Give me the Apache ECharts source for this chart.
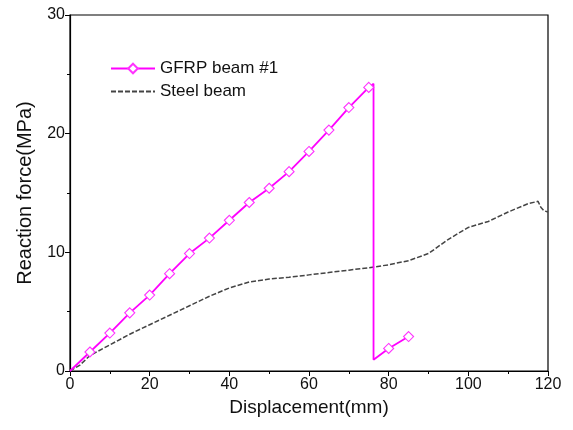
<!DOCTYPE html>
<html>
<head>
<meta charset="utf-8">
<script src="https://cdn.jsdelivr.net/npm/echarts@6/dist/echarts.min.js"></script>
<style>html,body{margin:0;padding:0;background:#fff;}#c{width:573px;height:430px;}</style>
</head>
<body>
<div id="c"></div>
<script>
// GFRP beam #1: [displacement mm, reaction force MPa]
var gfrpX = [0, 5, 10, 15, 20, 25, 30, 35, 40, 45, 50, 55, 60, 65, 70, 75, 76.2, 76.2, 80, 85];
var gfrpY = [0, 1.6, 3.2, 4.9, 6.4, 8.2, 9.9, 11.2, 12.7, 14.2, 15.4, 16.8, 18.5, 20.3, 22.2, 23.9, 24.2, 0.95, 1.9, 2.9];
var gfrpMarker = [false, true, true, true, true, true, true, true, true, true, true, true, true, true, true, true, false, false, true, true];

// Steel beam
var steelX = [0, 2.5, 5, 10, 15, 20, 25, 30, 35, 40, 45, 50, 55, 60, 65, 70, 75, 80, 85, 90, 95, 100, 105, 110, 115, 117.5, 118.2, 119, 120];
var steelY = [0, 0.5, 1.3, 2.2, 3.1, 3.9, 4.7, 5.5, 6.3, 7.0, 7.5, 7.75, 7.9, 8.1, 8.3, 8.5, 8.7, 8.95, 9.3, 9.9, 11.1, 12.1, 12.6, 13.4, 14.1, 14.3, 13.8, 13.5, 13.4];

var xTicks = [0, 20, 40, 60, 80, 100, 120];
var yTicks = [0, 10, 20, 30];

var markerStyle = { color: '#fff', borderColor: '#ff33ff', borderWidth: 1.1 };
var gfrpData = gfrpX.map(function (x, i) {
  var d = { value: [x, gfrpY[i]] };
  if (!gfrpMarker[i]) { d.symbol = 'none'; } else { d.symbol = 'diamond'; d.itemStyle = markerStyle; }
  return d;
});
var steelData = steelX.map(function (x, i) { return [x, steelY[i]]; });

var font = 'Liberation Sans, Arial, sans-serif';
var chart = echarts.init(document.getElementById('c'), null, { renderer: 'canvas' });
chart.setOption({
  animation: false,
  backgroundColor: '#fff',
  grid: { left: 70, right: 25, top: 15, bottom: 59, show: true, borderColor: '#000', borderWidth: 1.2, backgroundColor: 'transparent' },
  legend: {
    left: 105, top: 55, orient: 'vertical', itemGap: 6, itemWidth: 44, itemHeight: 12,
    textStyle: { fontFamily: font, fontSize: 17, color: '#111' },
    data: [
      { name: 'GFRP beam #1' },
      { name: 'Steel beam', itemStyle: { opacity: 0 } }
    ]
  },
  xAxis: {
    type: 'value', min: xTicks[0], max: xTicks[xTicks.length - 1], interval: 20,
    name: 'Displacement(mm)', nameLocation: 'middle', nameGap: 27,
    nameTextStyle: { fontFamily: font, fontSize: 19, color: '#111' },
    axisLine: { lineStyle: { color: '#000', width: 1.2 } },
    axisTick: { length: 5, lineStyle: { color: '#000' } },
    minorTick: { show: true, splitNumber: 2, length: 3, lineStyle: { color: '#000' } },
    axisLabel: { fontFamily: font, fontSize: 16, color: '#111', margin: 6 },
    splitLine: { show: false }
  },
  yAxis: {
    type: 'value', min: yTicks[0], max: yTicks[yTicks.length - 1], interval: 10,
    name: 'Reaction force(MPa)', nameLocation: 'middle', nameGap: 35,
    nameTextStyle: { fontFamily: font, fontSize: 20, color: '#111' },
    axisLine: { lineStyle: { color: '#000', width: 1.2 } },
    axisTick: { length: 5, lineStyle: { color: '#000' } },
    minorTick: { show: true, splitNumber: 2, length: 3, lineStyle: { color: '#000' } },
    axisLabel: { fontFamily: font, fontSize: 16, color: '#111', margin: 5 },
    splitLine: { show: false }
  },
  series: [
    {
      name: 'GFRP beam #1', type: 'line', data: gfrpData,
      symbol: 'diamond', symbolSize: 10, showSymbol: true,
      lineStyle: { color: '#ff00ff', width: 1.8 },
      itemStyle: markerStyle,
      z: 3
    },
    {
      name: 'Steel beam', type: 'line', data: steelData,
      symbol: 'none',
      lineStyle: { color: '#444', width: 1.5, type: [5, 2] },
      itemStyle: { color: '#444' },
      z: 2
    }
  ]
});
</script>
</body>
</html>
